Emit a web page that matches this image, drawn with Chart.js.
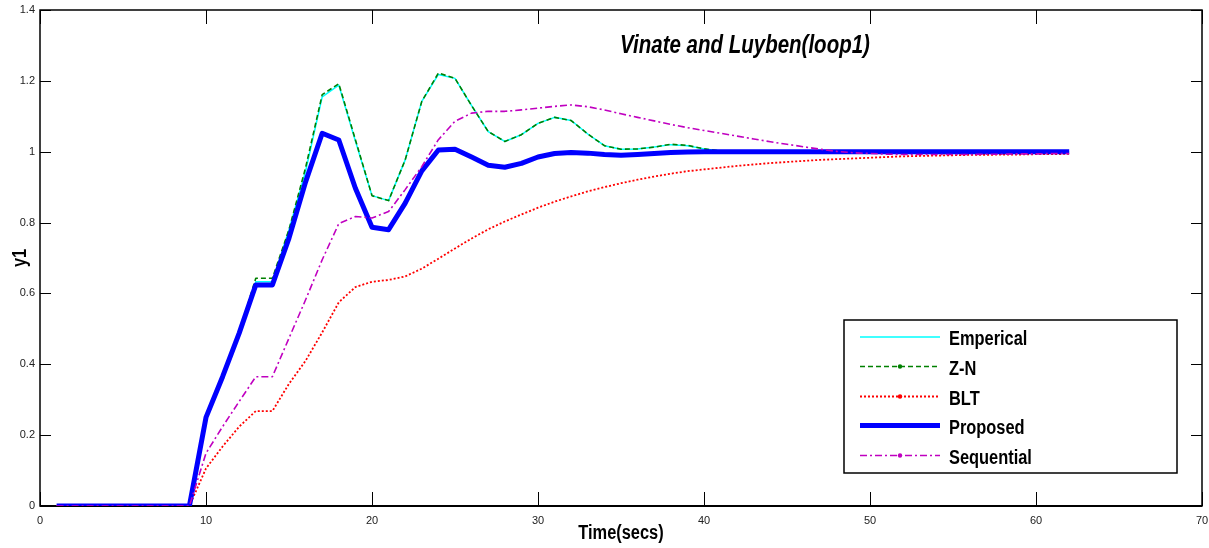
<!DOCTYPE html>
<html><head><meta charset="utf-8">
<script src="https://cdn.jsdelivr.net/npm/chart.js@4.4.1/dist/chart.umd.min.js"></script>
<style>html,body{margin:0;padding:0;background:#fff;overflow:hidden}#wrap{width:1209px;height:548px;position:relative}</style>
</head><body><div id="wrap"><canvas id="c" width="1209" height="548"></canvas></div>
<script>
const time = [1,2,3,4,5,6,7,8,9,10,11,12,13,14,15,16,17,18,19,20,21,22,23,24,25,26,27,28,29,30,31,32,33,34,35,36,37,38,39,40,41,42,43,44,45,46,47,48,49,50,51,52,53,54,55,56,57,58,59,60,61,62];

const emperical = [0,0,0,0,0,0,0,0,0,0.25,0.37,0.49,0.633,0.633,0.78,0.945,1.155,1.188,1.03,0.876,0.862,0.977,1.142,1.218,1.207,1.13,1.057,1.029,1.048,1.08,1.097,1.088,1.05,1.017,1.007,1.008,1.013,1.02,1.017,1.008,1.002,1,1,1,1,1,1,1,1,1,1,1,1,1,1,1,1,1,1,1,1,1];

const zn = [0,0,0,0,0,0,0,0,0,0.25,0.37,0.49,0.643,0.643,0.78,0.955,1.161,1.192,1.034,0.876,0.862,0.977,1.142,1.222,1.207,1.13,1.057,1.029,1.048,1.08,1.097,1.088,1.05,1.017,1.007,1.008,1.013,1.021,1.018,1.008,1.002,1,1,1,1,1,1,1,1,1,1,1,1,1,1,1,1,1,1,1,1,1];

const blt = [0,0,0,0,0,0,0,0,0,0.106,0.168,0.224,0.268,0.268,0.345,0.41,0.49,0.575,0.618,0.633,0.638,0.648,0.67,0.698,0.727,0.755,0.781,0.803,0.823,0.842,0.859,0.874,0.888,0.9,0.911,0.921,0.93,0.938,0.945,0.95,0.955,0.96,0.964,0.968,0.971,0.974,0.977,0.979,0.981,0.983,0.985,0.987,0.988,0.989,0.99,0.991,0.991,0.992,0.992,0.993,0.993,0.994];

const proposed = [0,0,0,0,0,0,0,0,0,0.25,0.365,0.488,0.624,0.624,0.756,0.915,1.052,1.033,0.897,0.787,0.78,0.855,0.946,1.005,1.007,0.985,0.962,0.956,0.967,0.985,0.995,0.998,0.996,0.992,0.99,0.992,0.995,0.998,0.999,1,1,1,1,1,1,1,1,1,1,1,1,1,1,1,1,1,1,1,1,1,1,1];

const sequential = [0,0,0,0,0,0,0,0,0,0.149,0.224,0.295,0.365,0.365,0.474,0.582,0.695,0.797,0.817,0.813,0.831,0.893,0.958,1.034,1.086,1.109,1.114,1.114,1.118,1.123,1.128,1.132,1.127,1.118,1.107,1.097,1.087,1.077,1.068,1.06,1.052,1.044,1.036,1.028,1.021,1.014,1.007,1.001,0.997,0.995,0.993,0.992,0.992,0.992,0.992,0.992,0.993,0.993,0.994,0.994,0.995,0.995];

const xTickValues = [0,10,20,30,40,50,60,70];
const xTickLabels = ['0','10','20','30','40','50','60','70'];
const yTickValues = [0,0.2,0.4,0.6,0.8,1,1.2,1.4];
const yTickLabels = ['0','0.2','0.4','0.6','0.8','1','1.2','1.4'];
const seriesNames = ['Emperical','Z-N','BLT','Proposed','Sequential'];
const chartTitle = 'Vinate and Luyben(loop1)';
const xLabel = 'Time(secs)';
const yLabel = 'y1';

const FONT = "'Liberation Sans',Arial,Helvetica,sans-serif";
const NARROW = 0.82;

function pts(arr){ return time.map((t,i)=>({x:t,y:arr[i]})); }

const styles = [
  {color:'#00ffff', width:1.5, dash:[], order:5, marker:false},
  {color:'#008000', width:1.6, dash:[5,3], order:4, marker:true},
  {color:'#ff0000', width:1.8, dash:[2,2], order:3, marker:true},
  {color:'#0000ff', width:5, dash:[], order:2, marker:false},
  {color:'#c000c0', width:1.6, dash:[7,3,2,3], order:1, marker:true}
];
const series = [emperical, zn, blt, proposed, sequential];

const datasets = series.map((s,i)=>({
  label: seriesNames[i],
  data: pts(s),
  borderColor: styles[i].color,
  backgroundColor: styles[i].color,
  borderWidth: styles[i].width,
  borderDash: styles[i].dash,
  borderJoinStyle: 'round',
  borderCapStyle: 'butt',
  pointRadius: 0,
  tension: 0,
  fill: false,
  order: styles[i].order,
  showMarker: styles[i].marker
}));

function narrowText(ctx, text, x, y, font, align, baseline, rot){
  ctx.save();
  ctx.translate(x, y);
  if (rot) ctx.rotate(rot);
  ctx.scale(NARROW, 1);
  ctx.font = font;
  ctx.textAlign = align;
  ctx.textBaseline = baseline;
  ctx.fillStyle = '#000';
  ctx.fillText(text, 0, 0);
  ctx.restore();
}

const matlabPlugin = {
  id: 'matlab',
  beforeDatasetsDraw(chart){
    const {ctx, chartArea:a, scales:{x,y}} = chart;
    ctx.save();
    ctx.strokeStyle = '#000';
    ctx.lineWidth = 1;
    ctx.beginPath();
    yTickValues.forEach(v=>{
      const py = Math.round(y.getPixelForValue(v))+0.5;
      ctx.moveTo(a.left, py); ctx.lineTo(a.left+11, py);
      ctx.moveTo(a.right, py); ctx.lineTo(a.right-11, py);
    });
    xTickValues.forEach(v=>{
      const px = Math.round(x.getPixelForValue(v))+0.5;
      ctx.moveTo(px, a.bottom); ctx.lineTo(px, a.bottom-14);
      ctx.moveTo(px, a.top); ctx.lineTo(px, a.top+14);
    });
    ctx.stroke();
    ctx.lineWidth = 1.5;
    ctx.strokeRect(a.left, a.top, a.right-a.left, a.bottom-a.top);
    ctx.lineWidth = 2;
    ctx.beginPath(); ctx.moveTo(a.left, a.bottom); ctx.lineTo(a.right, a.bottom); ctx.stroke();
    ctx.restore();
  },
  afterDraw(chart){
    const {ctx, chartArea:a} = chart;
    ctx.save();
    // title
    narrowText(ctx, chartTitle, 745, 53, "italic bold 25px " + FONT, 'center', 'alphabetic');
    // axis titles
    narrowText(ctx, xLabel, (a.left+a.right)/2, 539, "bold 20px " + FONT, 'center', 'alphabetic');
    narrowText(ctx, yLabel, 26, (a.top+a.bottom)/2, "bold 20px " + FONT, 'center', 'alphabetic', -Math.PI/2);
    // legend
    const bx = 844, by = 320, bw = 333, bh = 153;
    ctx.fillStyle = '#fff';
    ctx.fillRect(bx, by, bw, bh);
    ctx.strokeStyle = '#000';
    ctx.lineWidth = 1.5;
    ctx.strokeRect(bx, by, bw, bh);
    const rowY = [337, 366.5, 396.5, 425.5, 455.5];
    chart.data.datasets.forEach((ds,i)=>{
      const ly = rowY[i];
      ctx.save();
      ctx.strokeStyle = ds.borderColor;
      ctx.lineWidth = ds.borderWidth;
      ctx.setLineDash(ds.borderDash);
      ctx.beginPath(); ctx.moveTo(860, ly); ctx.lineTo(940, ly); ctx.stroke();
      ctx.setLineDash([]);
      if (ds.showMarker){
        ctx.fillStyle = ds.borderColor;
        ctx.beginPath(); ctx.arc(900, ly, 2.2, 0, Math.PI*2); ctx.fill();
      }
      ctx.restore();
      narrowText(ctx, ds.label, 949, ly+8, "bold 20px " + FONT, 'left', 'alphabetic');
    });
    ctx.restore();
  }
};

new Chart(document.getElementById('c'), {
  type: 'line',
  data: { datasets },
  plugins: [matlabPlugin],
  options: {
    responsive: false,
    animation: false,
    devicePixelRatio: 1,
    layout: { padding: { top: 10, right: 7, left: 0, bottom: 0 } },
    plugins: { legend: { display: false }, tooltip: { enabled: false }, title: { display: false } },
    scales: {
      x: {
        type: 'linear', min: 0, max: 70,
        afterBuildTicks: s => { s.ticks = xTickValues.map(v=>({value:v})); },
        afterFit: s => { s.height = 42; s.paddingLeft = 0; s.paddingRight = 0; },
        grid: { display: false, drawTicks: false },
        border: { display: false },
        ticks: { padding: 8, color: '#222', font: { family: FONT, size: 11 }, maxRotation: 0, autoSkip: false,
                 callback: (v) => xTickLabels[xTickValues.indexOf(v)] },
        title: { display: false }
      },
      y: {
        type: 'linear', min: 0, max: 1.4,
        afterBuildTicks: s => { s.ticks = yTickValues.map(v=>({value:v})); },
        afterFit: s => { s.width = 40; s.paddingTop = 0; s.paddingBottom = 0; },
        grid: { display: false, drawTicks: false },
        border: { display: false },
        ticks: { padding: 5, color: '#222', font: { family: FONT, size: 11 }, autoSkip: false,
                 callback: (v) => { const k = yTickValues.findIndex(t => Math.abs(t - v) < 1e-9); return k >= 0 ? yTickLabels[k] : ''; } },
        title: { display: false }
      }
    }
  }
});
</script>
</body></html>
